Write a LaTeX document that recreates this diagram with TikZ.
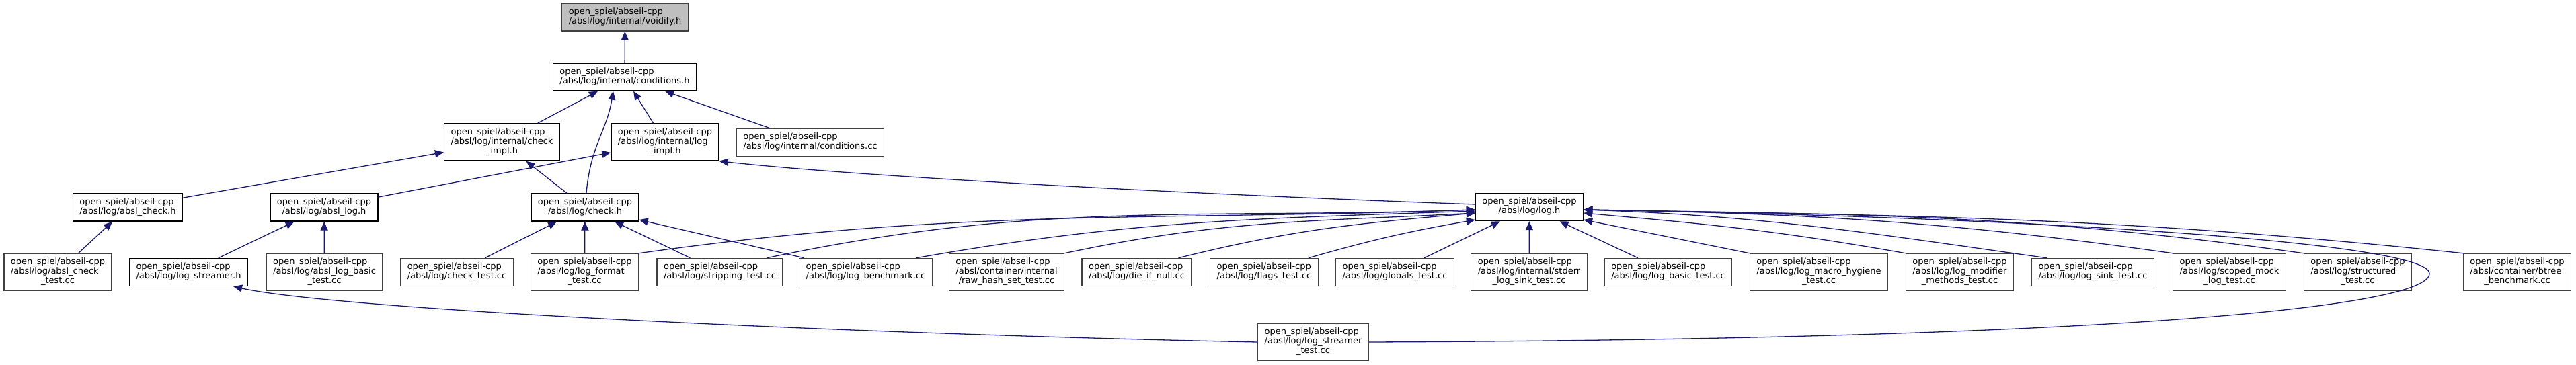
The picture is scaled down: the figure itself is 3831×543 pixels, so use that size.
\documentclass[tikz,border=0pt]{standalone}
\usepackage{fontspec}
\setmainfont{DejaVu Sans}
\usetikzlibrary{arrows.meta,calc}
\definecolor{edgeblue}{HTML}{191970}
\definecolor{boxgrey}{HTML}{404040}
\definecolor{rootgrey}{HTML}{BFBFBF}
\newcommand{\fpath}[2]{\begin{tabular}{@{}l@{}}#1\\\multicolumn{1}{@{}c@{}}{#2}\end{tabular}}

\begin{document}
\begin{tikzpicture}[x=1pt,y=1pt,
  box/.style={draw=black,line width=1.3pt,fill=white,font=\fontsize{13}{14}\selectfont,inner xsep=10pt,inner ysep=6.5pt,minimum height=41pt},
  src/.style={box,draw=boxgrey},
  incl/.style={draw=edgeblue,line width=1.3pt,-{Triangle[length=13pt,width=11pt]}}]
\useasboundingbox (0,0) rectangle (3831,543);
\node[src,fill=rootgrey] (voidify) at (929.5,517.5) {\fpath{open\_spiel/abseil-cpp}{/absl/log/internal/voidify.h}};
\node[box] (cond) at (929,428.5) {\fpath{open\_spiel/abseil-cpp}{/absl/log/internal/conditions.h}};
\node[box] (checkimpl) at (746.5,331.5) {\fpath{open\_spiel/abseil-cpp\\/absl/log/internal/check}{\_impl.h}};
\node[box] (logimpl) at (989,331.5) {\fpath{open\_spiel/abseil-cpp\\/absl/log/internal/log}{\_impl.h}};
\node[src] (condcc) at (1205,331) {\fpath{open\_spiel/abseil-cpp}{/absl/log/internal/conditions.cc}};
\node[box] (abslcheck) at (190,234.5) {\fpath{open\_spiel/abseil-cpp}{/absl/log/absl\_check.h}};
\node[box] (absllog) at (482,234.5) {\fpath{open\_spiel/abseil-cpp}{/absl/log/absl\_log.h}};
\node[box] (check) at (870,234.5) {\fpath{open\_spiel/abseil-cpp}{/absl/log/check.h}};
\node[box] (logh) at (2274.5,235) {\fpath{open\_spiel/abseil-cpp}{/absl/log/log.h}};
\node[src] (abslchecktest) at (86,138) {\fpath{open\_spiel/abseil-cpp\\/absl/log/absl\_check}{\_test.cc}};
\node[box] (logstreamer) at (280.5,138) {\fpath{open\_spiel/abseil-cpp}{/absl/log/log\_streamer.h}};
\node[src] (abslbasic) at (482.5,138) {\fpath{open\_spiel/abseil-cpp\\/absl/log/absl\_log\_basic}{\_test.cc}};
\node[src] (checktest) at (679.5,138) {\fpath{open\_spiel/abseil-cpp}{/absl/log/check\_test.cc}};
\node[src] (formattest) at (869.5,138) {\fpath{open\_spiel/abseil-cpp\\/absl/log/log\_format}{\_test.cc}};
\node[src] (stripping) at (1070.5,138) {\fpath{open\_spiel/abseil-cpp}{/absl/log/stripping\_test.cc}};
\node[src] (benchmark) at (1287.5,138) {\fpath{open\_spiel/abseil-cpp}{/absl/log/log\_benchmark.cc}};
\node[src] (rawhash) at (1497,138) {\fpath{open\_spiel/abseil-cpp\\/absl/container/internal}{/raw\_hash\_set\_test.cc}};
\node[src] (dieifnull) at (1690.5,138) {\fpath{open\_spiel/abseil-cpp}{/absl/log/die\_if\_null.cc}};
\node[src] (flags) at (1880,138) {\fpath{open\_spiel/abseil-cpp}{/absl/log/flags\_test.cc}};
\node[src] (globals) at (2074.5,138) {\fpath{open\_spiel/abseil-cpp}{/absl/log/globals\_test.cc}};
\node[src] (stderr) at (2274,138) {\fpath{open\_spiel/abseil-cpp\\/absl/log/internal/stderr}{\_log\_sink\_test.cc}};
\node[src] (logbasic) at (2481,138) {\fpath{open\_spiel/abseil-cpp}{/absl/log/log\_basic\_test.cc}};
\node[src] (hygiene) at (2705,138) {\fpath{open\_spiel/abseil-cpp\\/absl/log/log\_macro\_hygiene}{\_test.cc}};
\node[src] (modifier) at (2914.5,138) {\fpath{open\_spiel/abseil-cpp\\/absl/log/log\_modifier}{\_methods\_test.cc}};
\node[src] (sink) at (3112.5,138) {\fpath{open\_spiel/abseil-cpp}{/absl/log/log\_sink\_test.cc}};
\node[src] (scoped) at (3315.5,138) {\fpath{open\_spiel/abseil-cpp\\/absl/log/scoped\_mock}{\_log\_test.cc}};
\node[src] (structured) at (3506.5,138) {\fpath{open\_spiel/abseil-cpp\\/absl/log/structured}{\_test.cc}};
\node[src] (btree) at (3743.5,138) {\fpath{open\_spiel/abseil-cpp\\/absl/container/btree}{\_benchmark.cc}};
\node[src] (streamertest) at (1953,34) {\fpath{open\_spiel/abseil-cpp\\/absl/log/log\_streamer}{\_test.cc}};
\coordinate (loopturn) at (3613,136);
\foreach \a/\b in {cond/voidify,checkimpl/cond,logimpl/cond,condcc/cond,abslcheck/checkimpl,check/checkimpl,absllog/logimpl,
  abslchecktest/abslcheck,logstreamer/absllog,abslbasic/absllog,checktest/check,formattest/check,stripping/check,
  benchmark/check,globals/logh,stderr/logh,logbasic/logh}
  \draw[incl] (\a) -- (\b);
\draw[incl] ($(check.north)+(2,0)$) .. controls +(6,70) and +(-10,-60) .. ($(cond.south)+(-17,0)$);
\draw[incl] ($(logh.west)+(0,4)$) .. controls +(-450,16) and +(200,-22) .. (logimpl.south east);
\draw[incl] (streamertest.west) .. controls +(-600,12) and +(160,-35) .. ($(logstreamer.south east)+(-22,0)$);
\foreach \a/\p/\x/\o/\i/\d/\c in {formattest/north east/0/8/182/-4/485,stripping/north/70/12/182/-4/410,
  benchmark/north/75/10/182/-6/325,rawhash/north east/0/12/183/-9/240,dieifnull/north east/-20/14/185/-9/175,
  flags/north east/-15/16/190/-19/100}
  \draw[incl] ($(\a.\p)+(\x,0)$) .. controls +(\o:\c) and +(\i:\c) .. ($(logh.west)+(0,\d)$);
\draw[incl] (hygiene.north west) -- ($(logh.east)+(0,-19)$);
\foreach \a/\x/\o/\i/\d/\c in {modifier/0/170/-5/-9/190,sink/23/172/-2/-4/270,scoped/0/172/-1/-4/340,
  structured/0/172/-1/-4/420,btree/0/174/-1/-4/510}
  \draw[incl] ($(\a.north west)+(\x,0)$) .. controls +(\o:\c) and +(\i:\c) .. ($(logh.east)+(0,\d)$);
\draw[incl] (streamertest.east) .. controls +(1100,4) and +(0,-50) .. (loopturn) .. controls +(0,45) and +(700,-12) .. ($(logh.east)+(0,-4)$);
\end{tikzpicture}
\end{document}
